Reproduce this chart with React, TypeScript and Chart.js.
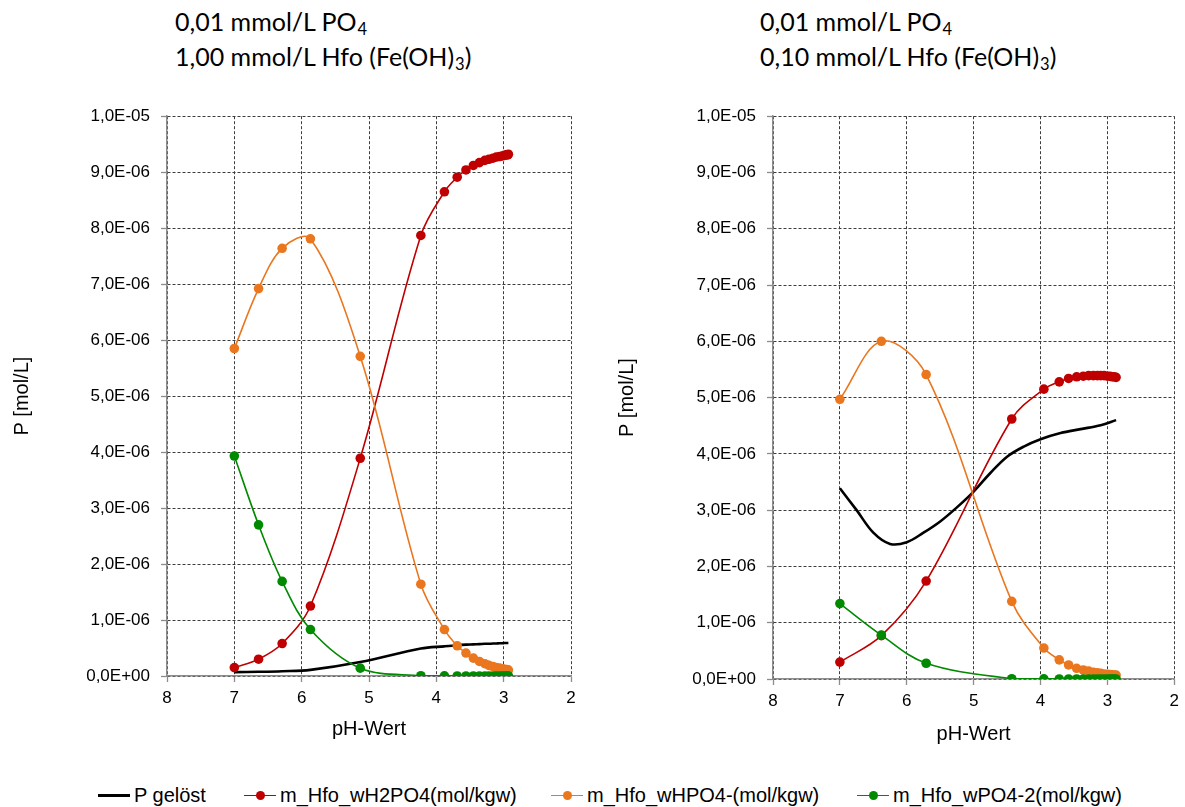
import React, { useEffect, useRef } from "react";
import { Chart, registerables } from "chart.js";

Chart.register(...registerables);

// ---------- data (values in µmol/L, i.e. ×1e-6 mol/L) ----------
// Left panel: 0,01 mmol/L PO4, 1,00 mmol/L Hfo
const pHLeft = [7.0, 6.64, 6.29, 5.87, 5.13, 4.23, 3.88, 3.69, 3.56, 3.45, 3.36, 3.28, 3.22, 3.16, 3.11, 3.06, 3.02, 2.99, 2.96, 2.94, 2.93];
const pGeloestLeft = [0.07, 0.075, 0.085, 0.11, 0.25, 0.49, 0.53, 0.55, 0.56, 0.565, 0.57, 0.575, 0.575, 0.58, 0.58, 0.585, 0.585, 0.59, 0.59, 0.59, 0.59];
const h2po4Left = [0.15, 0.3, 0.58, 1.25, 3.89, 7.87, 8.65, 8.91, 9.04, 9.12, 9.17, 9.21, 9.23, 9.25, 9.27, 9.28, 9.29, 9.3, 9.31, 9.31, 9.32];
const hpo4Left = [5.85, 6.92, 7.64, 7.81, 5.71, 1.64, 0.83, 0.54, 0.41, 0.32, 0.26, 0.22, 0.19, 0.17, 0.15, 0.14, 0.13, 0.12, 0.115, 0.11, 0.105];
const po4Left = [3.93, 2.7, 1.69, 0.83, 0.14, 0.005, 0.002, 0.001, 0.001, 0.0005, 0.0004, 0.0003, 0.0002, 0.0002, 0.0001, 0.0001, 0.0001, 0.0001, 0.0001, 0.0001, 0.0001];

// Right panel: 0,01 mmol/L PO4, 0,10 mmol/L Hfo
const pHRight = [7.0, 6.38, 5.71, 4.43, 3.95, 3.72, 3.58, 3.46, 3.36, 3.28, 3.21, 3.15, 3.1, 3.05, 3.0, 2.96, 2.93, 2.9, 2.87];
const h2po4Right = [0.3, 0.77, 1.74, 4.62, 5.15, 5.28, 5.34, 5.37, 5.38, 5.39, 5.39, 5.39, 5.39, 5.39, 5.38, 5.38, 5.37, 5.37, 5.36];
const hpo4Right = [4.97, 6.0, 5.41, 1.38, 0.55, 0.34, 0.25, 0.19, 0.16, 0.14, 0.12, 0.11, 0.1, 0.09, 0.085, 0.08, 0.075, 0.07, 0.07];
const po4Right = [1.34, 0.78, 0.28, 0.005, 0.002, 0.001, 0.001, 0.0005, 0.0004, 0.0003, 0.0002, 0.0002, 0.0001, 0.0001, 0.0001, 0.0001, 0.0001, 0.0001, 0.0001];
const pHBlackRight = [7.0, 6.75, 6.5, 6.25, 6.0, 5.75, 5.5, 5.25, 5.0, 4.75, 4.5, 4.25, 4.0, 3.7, 3.4, 3.1, 2.87];
const pGeloestRight = [3.39, 3.0, 2.6, 2.4, 2.43, 2.6, 2.8, 3.05, 3.33, 3.66, 3.95, 4.13, 4.26, 4.37, 4.44, 4.51, 4.6];

const seriesNames = ["P gelöst", "m_Hfo_wH2PO4(mol/kgw)", "m_Hfo_wHPO4-(mol/kgw)", "m_Hfo_wPO4-2(mol/kgw)"];
const seriesColors = ["#000000", "#C00000", "#EA761E", "#008A00"];

const xTitle = "pH-Wert";
const yTitle = "P [mol/L]";
const xMin = 2;
const xMax = 8;
const yMax = 1e-5;
const yStep = 1e-6;

// ---------- helpers ----------
const TICK_FONT = { family: '"Liberation Sans", Arial, sans-serif', size: 17 };
const AXIS_TITLE_FONT = { family: '"Liberation Sans", Arial, sans-serif', size: 20 };

function sci(v: number): string {
  if (Math.abs(v) < 1e-14) return "0,0E+00";
  let e = Math.floor(Math.log10(Math.abs(v)) + 1e-9);
  let m = v / Math.pow(10, e);
  if (Math.round(m * 10) / 10 >= 10) {
    m /= 10;
    e += 1;
  }
  const sign = e < 0 ? "-" : "+";
  return m.toFixed(1).replace(".", ",") + "E" + sign + String(Math.abs(e)).padStart(2, "0");
}

function pts(xs: number[], ys: number[]) {
  return xs.map((x, i) => ({ x, y: ys[i] * 1e-6 }));
}

function makeDatasets(blackX: number[], black: number[], xs: number[], red: number[], orange: number[], green: number[]) {
  const common = { showLine: true, tension: 0.35, pointBorderWidth: 0, pointHoverRadius: 4.8 };
  return [
    { ...common, label: seriesNames[0], data: pts(blackX, black), borderColor: seriesColors[0], backgroundColor: seriesColors[0], borderWidth: 2.6, pointRadius: 0, order: 3 },
    { ...common, label: seriesNames[1], data: pts(xs, red), borderColor: seriesColors[1], backgroundColor: seriesColors[1], borderWidth: 1.6, pointRadius: 4.8, order: 2 },
    { ...common, label: seriesNames[2], data: pts(xs, orange), borderColor: seriesColors[2], backgroundColor: seriesColors[2], borderWidth: 1.6, pointRadius: 4.8, order: 1 },
    { ...common, label: seriesNames[3], data: pts(xs, green), borderColor: seriesColors[3], backgroundColor: seriesColors[3], borderWidth: 1.6, pointRadius: 4.8, order: 0 },
  ];
}

type PanelProps = {
  left: number;
  top: number;
  width: number;
  height: number;
  padTop: number;
  padRight: number;
  yWidth: number;
  xHeight: number;
  yTitlePad: number;
  xTitlePad: number;
  datasets: any[];
};

function ChartPanel(p: PanelProps) {
  const ref = useRef<HTMLCanvasElement>(null);
  useEffect(() => {
    if (!ref.current) return;
    const gridCommon = {
      color: "#3c3c3c",
      lineWidth: 1,
      drawTicks: true,
      tickLength: 6,
      tickColor: "#8c8c8c",
      tickWidth: 1.3,
      tickBorderDash: [],
    };
    const borderCommon = { display: true, color: "#8c8c8c", width: 1.5, dash: [3, 2] };
    const chart = new Chart(ref.current, {
      type: "scatter",
      data: { datasets: p.datasets },
      options: {
        animation: false,
        responsive: false,
        maintainAspectRatio: false,
        events: [],
        layout: { padding: { top: p.padTop, right: p.padRight, left: 0, bottom: 0 } },
        plugins: { legend: { display: false }, tooltip: { enabled: false }, title: { display: false } },
        scales: {
          x: {
            type: "linear",
            reverse: true,
            min: xMin,
            max: xMax,
            ticks: { stepSize: 1, color: "#000", font: TICK_FONT, padding: 6, maxRotation: 0, callback: (v: any) => String(v) },
            grid: gridCommon,
            border: borderCommon,
            title: { display: true, text: xTitle, color: "#000", font: AXIS_TITLE_FONT, padding: { top: 0, bottom: p.xTitlePad } },
            afterFit: (s: any) => {
              s.height = p.xHeight;
            },
          },
          y: {
            type: "linear",
            min: 0,
            max: yMax,
            ticks: { stepSize: yStep, color: "#000", font: TICK_FONT, padding: 11, callback: (v: any) => sci(Number(v)) },
            grid: gridCommon,
            border: borderCommon,
            title: { display: true, text: yTitle, color: "#000", font: AXIS_TITLE_FONT, padding: { top: p.yTitlePad, bottom: 0 } },
            afterFit: (s: any) => {
              s.width = p.yWidth;
            },
          },
        },
      } as any,
    });
    return () => chart.destroy();
  }, []);
  return (
    <canvas
      ref={ref}
      width={p.width}
      height={p.height}
      style={{ position: "absolute", left: p.left, top: p.top, width: p.width, height: p.height }}
    />
  );
}

function Sub({ children }: { children: React.ReactNode }) {
  return (
    <span style={{ fontSize: "0.66em", lineHeight: 0, position: "relative", top: "0.25em", marginLeft: 1 }}>{children}</span>
  );
}

function TitleBlock({ left, hfo }: { left: number; hfo: string }) {
  return (
    <div
      style={{
        position: "absolute",
        left,
        top: 4,
        fontFamily: "Lato, 'Open Sans', sans-serif",
        fontSize: 25,
        lineHeight: "35px",
        color: "#000",
        whiteSpace: "nowrap",
      }}
    >
      <div style={{ height: 35 }}>
        0,01 mmol/L PO<Sub>4</Sub>
      </div>
      <div style={{ height: 35 }}>
        {hfo} mmol/L Hfo (Fe(OH)<Sub>3</Sub>)
      </div>
    </div>
  );
}

function Legend() {
  const xs = [98, 244, 551, 857];
  return (
    <>
      {seriesNames.map((name, i) => (
        <div key={name} style={{ position: "absolute", left: xs[i], top: 783, height: 24, whiteSpace: "nowrap" }}>
          <div
            style={{
              position: "absolute",
              left: 0,
              top: i === 0 ? 11 : 11.5,
              width: 32,
              height: i === 0 ? 2.6 : 1.8,
              background: seriesColors[i],
            }}
          />
          {i > 0 && (
            <div
              style={{
                position: "absolute",
                left: 11.5,
                top: 8,
                width: 9,
                height: 9,
                borderRadius: "50%",
                background: seriesColors[i],
              }}
            />
          )}
          <span
            style={{
              position: "absolute",
              left: 36,
              top: 0,
              fontFamily: '"Liberation Sans", Arial, sans-serif',
              fontSize: 20,
              lineHeight: "24px",
              color: "#000",
            }}
          >
            {name}
          </span>
        </div>
      ))}
    </>
  );
}

export default function App() {
  const leftSets = makeDatasets(pHLeft, pGeloestLeft, pHLeft, h2po4Left, hpo4Left, po4Left);
  const rightSets = makeDatasets(pHBlackRight, pGeloestRight, pHRight, h2po4Right, hpo4Right, po4Right);
  return (
    <div style={{ position: "absolute", left: 0, top: 0, width: 1185, height: 807, background: "#fff", overflow: "hidden" }}>
      <TitleBlock left={175} hfo="1,00" />
      <TitleBlock left={760} hfo="0,10" />
      <ChartPanel left={0} top={95} width={600} height={660} padTop={20} padRight={29} yWidth={167} xHeight={79} yTitlePad={10} xTitlePad={14} datasets={leftSets} />
      <ChartPanel left={605} top={95} width={580} height={665} padTop={20} padRight={5} yWidth={168} xHeight={81} yTitlePad={10} xTitlePad={14} datasets={rightSets} />
      <Legend />
    </div>
  );
}
